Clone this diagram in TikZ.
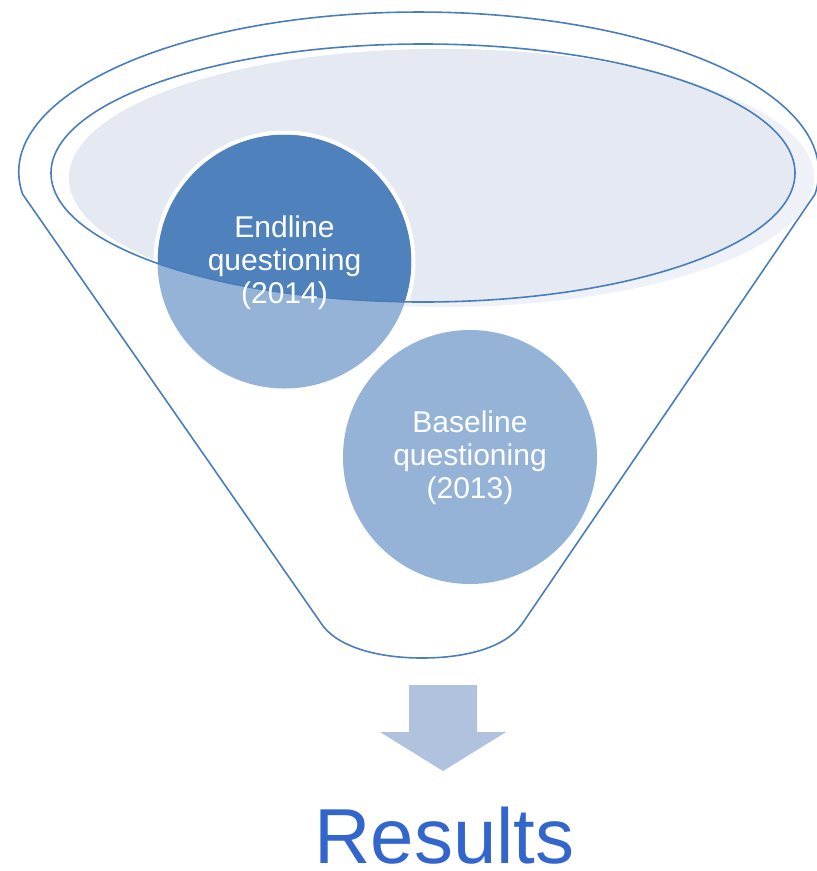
\documentclass[tikz,border=0pt]{standalone}
\usepackage{fontspec}
\setmainfont{Liberation Sans}
\definecolor{lineblue}{HTML}{4A7EBB}
\definecolor{palefill}{HTML}{EEF2F8}
\definecolor{mouthfill}{HTML}{E4E9F2}
\definecolor{darkdisc}{HTML}{4F81BD}
\definecolor{lightdisc}{HTML}{95B3D7}
\definecolor{arrowfill}{HTML}{B0C2DE}
\definecolor{resultblue}{HTML}{3366CC}
\tikzset{
  funnelline/.style={draw=lineblue, line width=1.6pt},
  disctext/.style={align=center, text=white, inner sep=0pt,
    font=\fontsize{30}{33}\selectfont},
}
\begin{document}
\begin{tikzpicture}[x=1pt,y=-1pt]
\useasboundingbox (0,0) rectangle (817,871);
% funnel outline
\draw[funnelline, line join=round]
  (22.7,194.3) arc[start angle=172, end angle=368, x radius=400, y radius=160]
  -- (522,624)
  .. controls (505,648) and (465,658) .. (422,658)
  .. controls (380,658) and (340,648) .. (323,626)
  -- cycle;
% mouth fills
\fill[palefill] (441.5,178) ellipse[x radius=372.5, y radius=129];
\begin{scope}
  \clip (423,173) ellipse[x radius=372, y radius=129];
  \fill[mouthfill] (441.5,178) ellipse[x radius=372.5, y radius=129];
\end{scope}
% endline disc
\fill[lightdisc] (284.5,261.5) circle[radius=127];
\begin{scope}
  \clip (423,173) ellipse[x radius=372, y radius=129];
  \fill[darkdisc] (284.5,261.5) circle[radius=127];
  \draw[white, line width=4pt] (284.5,261.5) circle[radius=129];
\end{scope}
% mouth outline
\draw[funnelline] (423,173) ellipse[x radius=372, y radius=129];
% baseline disc
\fill[lightdisc] (470,457) circle[radius=127];
\node[disctext] (endline) at (284.5,263) {Endline\\questioning\\(2014)};
\node[disctext] (baseline) at (470,458) {Baseline\\questioning\\(2013)};
% arrow
\fill[arrowfill] (409,685) -- (477,685) -- (477,732) -- (506,732)
  -- (443,771) -- (380,732) -- (409,732) -- cycle;
\node[anchor=base, text=resultblue, inner sep=0pt,
  font=\fontsize{78}{78}\selectfont] (results) at (444.5,863) {Results};
\end{tikzpicture}
\end{document}
